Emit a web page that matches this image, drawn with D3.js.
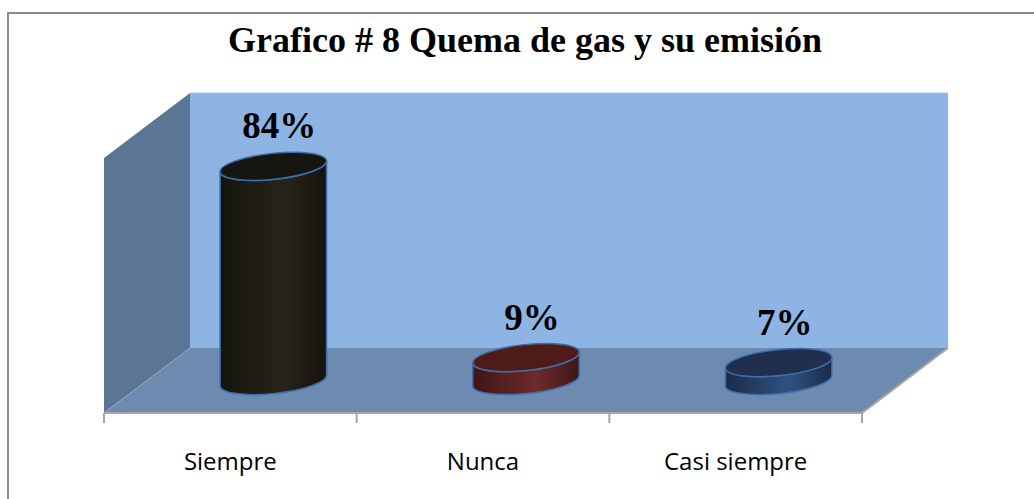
<!DOCTYPE html>
<html>
<head>
<meta charset="utf-8">
<script src="https://cdn.jsdelivr.net/npm/d3@7"></script>
<style>
  html, body { margin: 0; padding: 0; background: #fff; }
  svg { display: block; }
</style>
</head>
<body>
<svg id="chart" width="1034" height="499"></svg>
<script>
// data
var categories = ["Siempre", "Nunca", "Casi siempre"];
var values = [84, 9, 7];
var valueLabels = ["84%", "9%", "7%"];
var bodyEdge = ["#14130d", "#3e1616", "#1a2b47"];
var bodyMid = ["#27241b", "#6e2a2a", "#305282"];
var topFill = ["#16150f", "#4f1b19", "#1f2f4d"];

var svg = d3.select("#chart");

// outer frame (left + top only visible)
svg.append("path")
  .attr("d", "M8,499 L8,13 L1034,13")
  .attr("fill", "none")
  .attr("stroke", "#8c8c8c")
  .attr("stroke-width", 2);

svg.append("text")
  .attr("x", 525).attr("y", 52)
  .attr("text-anchor", "middle")
  .attr("font-family", "'Liberation Serif', 'Times New Roman', serif")
  .attr("font-weight", "bold")
  .attr("font-size", 36)
  .text("Grafico # 8 Quema de gas y su emisión");

// pseudo 3d box
var floorY = 413, depthDX = 86, depthDY = 65;
var x = d3.scaleBand().domain(categories).range([104, 862]);
var h = d3.scaleLinear().domain([0, 100]).range([0, 255]);
function proj(px, ph, d) { return [px + d * depthDX, floorY - ph - d * depthDY]; }
var line = d3.line();
var xa = x.range()[0], xb = x.range()[1], wallH = h(100);

// side wall
svg.append("path")
  .attr("d", line([proj(xa, 0, 0), proj(xa, 0, 1), proj(xa, wallH, 1), proj(xa, wallH, 0)]) + "Z")
  .attr("fill", "#5b7594");
// back wall
svg.append("path")
  .attr("d", line([proj(xa, 0, 1), proj(xb, 0, 1), proj(xb, wallH, 1), proj(xa, wallH, 1)]) + "Z")
  .attr("fill", "#8eb4e3");
// floor
svg.append("path")
  .attr("d", line([proj(xa, 0, 0), proj(xb, 0, 0), proj(xb, 0, 1), proj(xa, 0, 1)]) + "Z")
  .attr("fill", "#6d8ab0");
svg.append("path")
  .attr("d", line([proj(xa, 0, 0), proj(xb, 0, 0), proj(xb, 0, 1)]))
  .attr("fill", "none").attr("stroke", "#a6a6a6").attr("stroke-width", 2);
svg.append("path")
  .attr("d", line([proj(xa, 0, 0), proj(xa, 0, 1)]))
  .attr("fill", "none").attr("stroke", "#9aa6b6").attr("stroke-width", 1);
svg.append("path")
  .attr("d", line([proj(xa, wallH, 1), proj(xb, wallH, 1)]))
  .attr("fill", "none").attr("stroke", "#a9c4e8").attr("stroke-width", 1);

// ticks
var tickXs = categories.map(function(c) { return x(c); }).concat([xb]);
svg.selectAll(".tick").data(tickXs).enter().append("line")
  .attr("x1", function(d) { return d; }).attr("x2", function(d) { return d; })
  .attr("y1", floorY).attr("y2", floorY + 10)
  .attr("stroke", "#a6a6a6").attr("stroke-width", 2);

svg.selectAll(".cat").data(categories).enter().append("text")
  .attr("x", function(d) { return x(d) + x.bandwidth() / 2; })
  .attr("y", 470)
  .attr("text-anchor", "middle")
  .attr("font-family", "'Open Sans', sans-serif")
  .attr("font-size", 24)
  .text(function(d) { return d; });

// cylinders
var defs = svg.append("defs");
var rx = 53.5, ry = 13, rot = -6;
var ca = Math.cos(rot * Math.PI / 180), sa = Math.sin(rot * Math.PI / 180);

values.forEach(function(v, i) {
  var g = defs.append("linearGradient").attr("id", "body" + i)
    .attr("x1", 0).attr("x2", 1).attr("y1", 0).attr("y2", 0);
  g.append("stop").attr("offset", "0%").attr("stop-color", bodyEdge[i]);
  g.append("stop").attr("offset", "60%").attr("stop-color", bodyMid[i]);
  g.append("stop").attr("offset", "100%").attr("stop-color", bodyEdge[i]);

  var c = proj(x(categories[i]) + x.bandwidth() / 2, 0, 0.5);
  var cx = c[0], by = c[1], ty = by - h(v);
  var ex = rx * ca, ey = rx * sa;
  var arc = " A" + rx + "," + ry + " " + rot + " 0 ";
  var body = "M" + (cx - ex) + "," + (ty - ey) +
    " L" + (cx - ex) + "," + (by - ey) +
    arc + "0 " + (cx + ex) + "," + (by + ey) +
    " L" + (cx + ex) + "," + (ty + ey) +
    arc + "1 " + (cx - ex) + "," + (ty - ey) + "Z";
  svg.append("path").attr("d", body)
    .attr("fill", "url(#body" + i + ")")
    .attr("stroke", "#3e6da8").attr("stroke-width", 1.5);
  svg.append("ellipse")
    .attr("cx", cx).attr("cy", ty).attr("rx", rx).attr("ry", ry)
    .attr("transform", "rotate(" + rot + " " + cx + " " + ty + ")")
    .attr("fill", topFill[i])
    .attr("stroke", "#3e6da8").attr("stroke-width", 1.5);

  svg.append("text")
    .attr("x", cx + 6).attr("y", ty - 28)
    .attr("text-anchor", "middle")
    .attr("font-family", "'Liberation Serif', 'Times New Roman', serif")
    .attr("font-weight", "bold")
    .attr("font-size", 37)
    .text(valueLabels[i]);
});
</script>
</body>
</html>
